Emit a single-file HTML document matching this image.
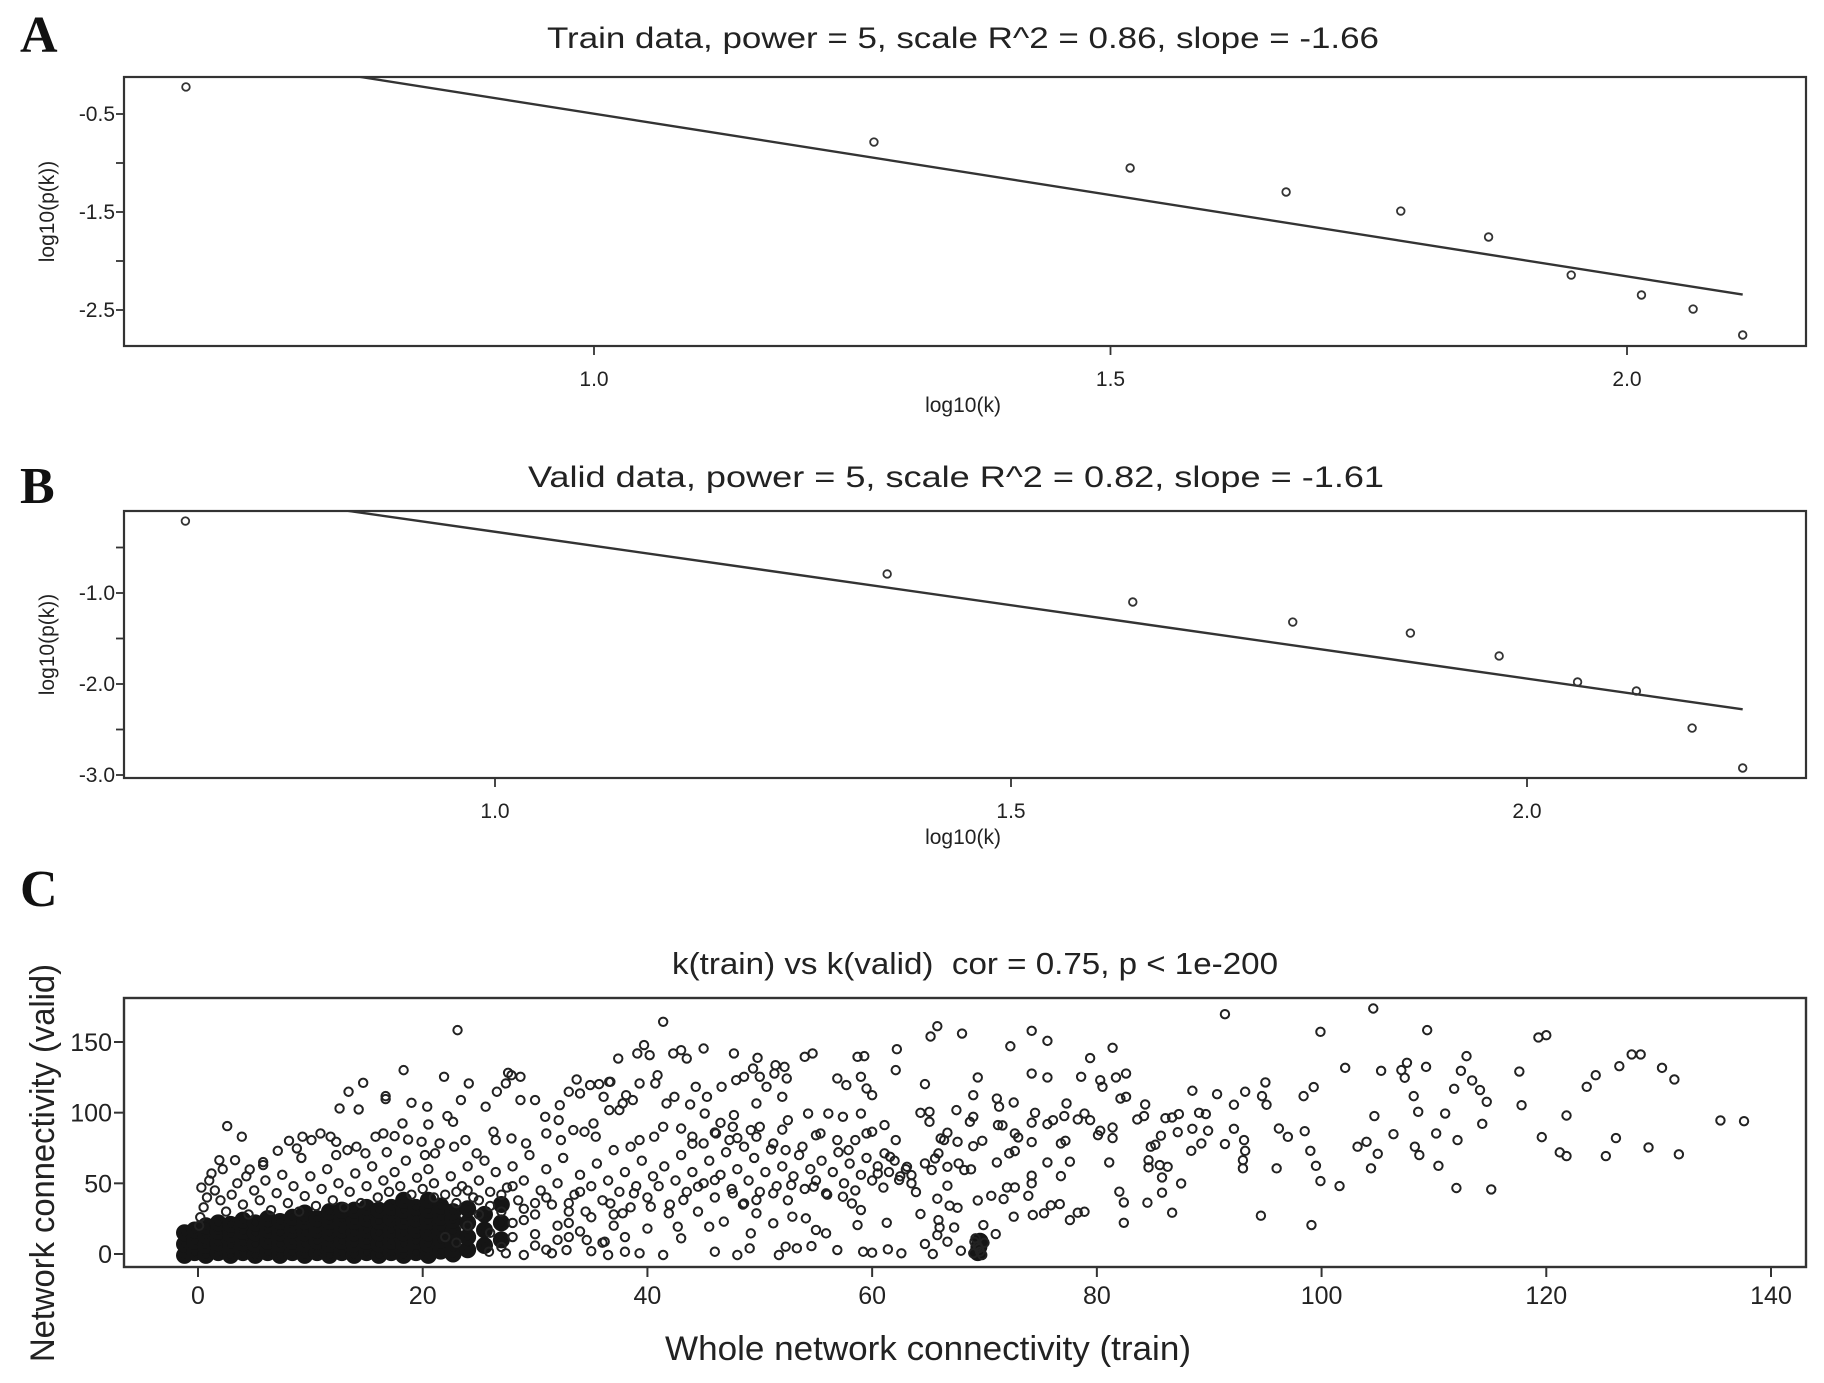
<!DOCTYPE html>
<html>
<head>
<meta charset="utf-8">
<style>
  html,body{margin:0;padding:0;background:#fff;}
  svg{display:block;}
  text{font-family:"Liberation Sans",Arial,sans-serif;fill:#222;}
  .plabel{font-family:"Liberation Serif",serif;font-weight:bold;fill:#111;}
</style>
</head>
<body>
<svg id="fig" width="1824" height="1383" viewBox="0 0 1824 1383" xmlns="http://www.w3.org/2000/svg">
  <rect x="0" y="0" width="1824" height="1383" fill="#fff"/>
  <defs>
    <clipPath id="clipA"><rect x="124" y="77" width="1682" height="269"/></clipPath>
    <clipPath id="clipB"><rect x="124" y="511" width="1682" height="267"/></clipPath>
    <clipPath id="clipC"><rect x="124" y="998" width="1682" height="269"/></clipPath>
  </defs>
  <text class="plabel" x="20" y="52" font-size="52">A</text>
  <text class="plabel" x="20" y="503" font-size="52">B</text>
  <text class="plabel" x="20" y="906" font-size="52">C</text>

  <text x="963" y="48" font-size="30" text-anchor="middle" textLength="832" lengthAdjust="spacingAndGlyphs">Train data, power = 5, scale R^2 = 0.86, slope = -1.66</text>
  <text x="956" y="487" font-size="30" text-anchor="middle" textLength="856" lengthAdjust="spacingAndGlyphs">Valid data, power = 5, scale R^2 = 0.82, slope = -1.61</text>
  <text x="975" y="974" font-size="31" text-anchor="middle" textLength="606" lengthAdjust="spacingAndGlyphs">k(train) vs k(valid)&#160; cor = 0.75, p &lt; 1e-200</text>

  <g id="panelA"></g>
  <g id="panelB"></g>
  <g id="panelC"></g>
</svg>
<script>
// ---------- Panel A data ----------
const aLogK = [0.605, 1.271, 1.519, 1.670, 1.781, 1.866, 1.946, 2.014, 2.064, 2.112];
const aLogP = [-0.224, -0.786, -1.051, -1.296, -1.49, -1.755, -2.143, -2.347, -2.49, -2.755];
const aFit = [1.163, -1.66]; // intercept, slope
const aXTicks = [1.0, 1.5, 2.0];
const aXTickLabels = ["1.0", "1.5", "2.0"];
const aYTicks = [-0.5, -1.0, -1.5, -2.0, -2.5];
const aYTickLabels = ["-0.5", "", "-1.5", "", "-2.5"];
// ---------- Panel B data ----------
const bLogK = [0.70, 1.380, 1.618, 1.773, 1.887, 1.973, 2.049, 2.106, 2.160, 2.209];
const bLogP = [-0.209, -0.791, -1.099, -1.319, -1.44, -1.692, -1.978, -2.077, -2.484, -2.923];
const bFit = [1.287, -1.614];
const bXTicks = [1.0, 1.5, 2.0];
const bXTickLabels = ["1.0", "1.5", "2.0"];
const bYTicks = [-0.5, -1.0, -1.5, -2.0, -2.5, -3.0];
const bYTickLabels = ["", "-1.0", "", "-2.0", "", "-3.0"];
// ---------- Panel C data ----------
const cXTicks = [0, 20, 40, 60, 80, 100, 120, 140];
const cYTicks = [0, 50, 100, 150];
// dense core (drawn as heavy discs): [k(train), k(valid)]
const cCore = [
[-1.2,-1],[-1.2,7],[-1.2,15],[-0.3,1],[-0.3,9],[-0.3,17],[0.7,-1],[0.7,6],[0.7,13],[0.7,20],
[1.8,1],[1.8,8],[1.8,16],[1.8,22],[2.9,-1],[2.9,6],[2.9,14],[2.9,21],[4.0,1],[4.0,8],[4.0,16],[4.0,24],
[5.1,-1],[5.1,7],[5.1,15],[5.1,22],[6.2,1],[6.2,9],[6.2,17],[6.2,25],[7.3,-1],[7.3,7],[7.3,15],[7.3,23],
[8.4,1],[8.4,9],[8.4,17],[8.4,26],[9.5,-1],[9.5,7],[9.5,15],[9.5,23],[9.5,29],[10.6,1],[10.6,9],[10.6,17],[10.6,25],
[11.7,-1],[11.7,7],[11.7,15],[11.7,23],[11.7,30],[12.8,1],[12.8,9],[12.8,17],[12.8,25],[12.8,31],
[13.9,-1],[13.9,7],[13.9,15],[13.9,23],[13.9,31],[15.0,1],[15.0,9],[15.0,17],[15.0,25],[15.0,33],
[16.1,-1],[16.1,7],[16.1,15],[16.1,23],[16.1,31],[17.2,1],[17.2,9],[17.2,17],[17.2,25],[17.2,33],
[18.3,-1],[18.3,7],[18.3,15],[18.3,23],[18.3,31],[18.3,38],[19.4,1],[19.4,9],[19.4,17],[19.4,25],[19.4,33],
[20.5,-1],[20.5,7],[20.5,15],[20.5,23],[20.5,31],[20.5,38],[21.6,2],[21.6,10],[21.6,18],[21.6,26],[21.6,34],
[22.7,0],[22.7,8],[22.7,16],[22.7,24],[22.7,30],[24.0,3],[24.0,12],[24.0,22],[24.0,32],
[25.5,6],[25.5,17],[25.5,28],[27,10],[27,22],[27,35],[69.4,1],[69.5,5],[69.6,9]
];
// individual points: [k(train), k(valid)]
const cPoints = [
[104.6,173.7],[91.4,169.7],[99.9,157.2],[109.4,158.4],[119.3,153.2],[120,154.8],[65.8,161.2],[65.2,153.9],[68,156],[74.2,157.9],
[75.6,150.8],[72.3,147],[81.4,145.9],[79.4,138.6],[112.9,140],[127.6,141.2],[128.4,141.2],[102.1,131.7],[105.3,129.6],[107.1,130.1],
[107.6,135.3],[109.3,132.4],[112.4,129.6],[117.6,129.1],[126.5,132.9],[130.3,131.7],[131.4,123.5],[124.4,126.5],[123.6,118.3],[113.4,122.8],
[114.1,116],[111.8,116.9],[107.4,124.7],[64.7,120.2],[69.4,124.9],[74.2,127.7],[75.6,124.9],[78.6,125.4],[80.3,123],[80.5,118.3],
[81.7,124.9],[82.6,127.7],[88.5,115.5],[90.7,113.1],[93.2,114.8],[95,121.4],[94.7,111.7],[95.1,105.6],[92.2,105.6],[98.4,111.7],
[99.3,118.1],[108.2,111.7],[114.7,107.7],[117.8,105.3],[121.8,98],[114.3,92.1],[108.6,100.6],[111,99.4],[104.7,97.6],[135.5,94.5],
[137.6,94],[119.6,82.7],[126.2,82],[112.1,80.6],[110.2,85.3],[106.4,84.8],[104,79.4],[103.2,75.9],[105,70.9],[121.2,71.9],
[121.8,69.3],[125.3,69.3],[129.1,75.4],[131.8,70.5],[108.3,75.9],[108.7,70],[110.4,62.4],[112,46.7],[115.1,45.7],[99,73],
[99.5,62.4],[99.9,51.6],[101.6,48.1],[104.4,60.6],[96,60.6],[96.2,88.8],[97,82.9],[98.5,86.9],[93.1,80.6],[93.2,73],
[93,66.4],[93,60.6],[91.4,77.8],[92.2,88.6],[94.6,27.1],[99.1,20.5],[88.5,88.6],[89.3,78.2],[89.9,87.2],[88.4,73],
[87.2,86.2],[86.7,96.6],[86.1,96.1],[87.3,99],[89.1,99.9],[89.7,99],[85.7,83.7],[85.2,77.3],[84.8,75.9],[84.6,66.4],
[84.6,61.3],[85.6,62.9],[86.3,61.7],[85.8,54.2],[87.5,49.9],[85.8,43.4],[84.5,36.3],[86.7,29.2],[82.4,22.1],[82.4,36.5],
[82,44.1],[81.1,64.8],[81.4,89.5],[81.4,82],[80.1,84.1],[80.3,87.2],[78.9,99.4],[78.3,95.2],[79.4,94.7],[83.6,95.2],
[84.2,97.6],[84.3,105.8],[82.1,110],[82.6,111.2],[77.3,106.5],[77.1,97.6],[76.1,94.7],[75.6,91.9],[74.2,92.9],[74.5,99.9],
[72.6,107.2],[71.1,110],[71.3,104.2],[69,112.4],[69,97.1],[68.7,93.5],[67.5,101.8],[65.1,100.6],[65.1,93.5],[64.3,99.9],
[71.2,91.2],[71.6,91],[72.7,85.3],[73,82.5],[72.7,72.8],[72.2,71.2],[74.2,79.2],[77.2,80.1],[76.8,78.2],[77.6,65.3],
[75.6,64.8],[71.1,64.8],[69.8,80.1],[69,76.3],[67.6,79.4],[66.4,80.6],[66.1,81.8],[66.7,85.8],[65.9,71.2],[65.6,67.6],
[64.7,64.1],[65.3,59.4],[66.7,61.7],[67.7,64.1],[68.2,59.4],[68.8,59.9],[63.5,55.8],[63.9,43.8],[66.7,48.3],[65.8,39.1],
[66.9,34.2],[67.6,32.7],[69.4,37.9],[70.6,41.2],[71.7,38.9],[72,47.1],[72.7,47.1],[74.2,55.4],[74.2,50],[73.9,41.2],
[72.6,26.4],[74.3,27.6],[75.3,28.8],[75.9,34.4],[76.7,35.3],[76.8,55.1],[77.6,24],[78.3,29.2],[78.9,29.9],[64.3,28.3],
[65.9,24],[66,18.8],[67.3,18.8],[65.8,13.4],[66.7,8.7],[64.7,7.1],[65.4,0],[67.9,2.3],[69.9,20.5],[71,14.1],
[69.1,8.7],[69.4,5.6],[69.6,1.6],[69.8,-0.7],[69.2,11.1],[70,8],[69.5,4],[69,0.5],
[23.1,158.4],[41.4,164.3],[39.7,147.8],[39.1,141.9],[40.2,140.7],[37.4,138.3],[40.9,126.5],[42.3,141.9],[43,144.2],[43.5,138.3],
[45,145.4],[47.7,141.9],[49.8,138.8],[54,139.5],[54.7,141.9],[58.7,139.5],[59.3,140],[62.2,144.9],[62.1,130.1],[18.3,130.1],
[14.7,121.1],[13.4,114.8],[12.6,103],[14.3,102.3],[16.7,111.7],[16.7,109.6],[19,107],[20.4,104.2],[21.9,125.4],[24.1,120.7],
[23.4,108.9],[25.6,104.2],[22.2,97.6],[22.7,93.5],[20.5,91.7],[18.2,92.4],[26.6,114.8],[27.4,120.7],[27.9,126.5],[28.7,125.4],
[27.6,128.2],[28.7,108.9],[30,108.9],[30.9,97.1],[32.1,94.7],[32.2,105.3],[33,114.8],[33.7,123.5],[34,113.6],[34.9,119.5],
[35.7,120.2],[36.6,121.8],[36.7,121.8],[36.1,111.2],[36.6,101.8],[37.8,106.5],[37.5,101.8],[38.1,112.4],[38.7,108.9],[39.3,120.7],
[40.7,120.7],[41.7,106.5],[42.4,111.2],[43.8,105.8],[44.3,118.3],[45.3,111.2],[46.6,118.3],[47.9,123],[48.6,125.4],[49.4,131.3],
[50,125.4],[50.6,118.3],[51.3,127.7],[52.4,124.2],[51.4,133.6],[52.2,132.4],[52,111.2],[49.7,106.5],[47.7,98.3],[45.1,99.4],
[46.5,92.8],[47.6,90],[49.2,87.7],[52.5,94.7],[54.3,99.4],[56.1,99.4],[57.4,97.1],[59,99.4],[61.1,91.2],[56.9,124.2],
[57.7,119.5],[59,125.4],[59.5,117.1],[60,112.4],[58.5,80.6],[60,86.5],[62.1,80.6],[61.6,68.8],[63.1,61.7],
[2.6,90.5],[3.9,83],[1.9,66.4],[3.3,66.4],[4.6,59.8],[5.8,62.9],[7.1,73],[8.1,80.1],[8.8,74.7],[9.3,83],
[10.1,80.6],[10.9,85.3],[11.8,83],[12.3,79.4],[13.3,73.5],[14.1,75.9],[14.9,71.2],[15.8,83],[16.5,85.3],[17.5,83.4],
[18.7,81],[19.9,79.4],[21.1,71.2],[21.5,78.2],[22.8,75.9],[23.8,80.6],[24.8,71.2],[26.3,86.5],[26.5,80.6],[27.9,81.8],
[29.2,78.2],[31,85.3],[32.3,80.6],[33.4,87.7],[34.4,86.5],[35.2,92.4],[35.4,83],[37,73.5],[38.5,75.9],[39.3,80.6],
[40.6,83],[41.4,90],[43,88.8],[44,83],[45,78.2],[46.1,85.3],[47.3,80.6],[48.6,75.9],[49.7,83],[51.2,78.2],
[52.3,73.5],[53.8,75.9],[55.4,85.3],[56.9,80.6],[57.9,73.5],[59.5,85.3],[61.1,71.2],
[46,1.6],[48,-0.7],[49.1,4],[51.7,-0.7],[52.3,5.2],[53.3,4],[54.6,5.6],[56.9,2.8],[59.2,1.6],[60,0.9],
[61.4,3.3],[62.6,0.5],[61.3,22.1],[58.7,20.5],[55.9,14.6],[55,17],[54.1,25.2],[52.9,26.4],[51.2,21.7],[49.2,14.6],
[49.7,28.8],[46.8,22.9],[45.5,19.3],[43,11.1],[42.7,19.3],[41.4,-0.7],[39.3,0.5],[38,1.6],[36.5,-0.7],[36.2,8.7],
[34.6,9.9],[32.8,2.8],[31.5,0.5],[29,-0.7],[27.4,0.5],[25.9,1.6],[46,52.3],[47.6,42.9],[48.6,35.8],[49.7,38.2],
[51.2,42.9],[52.8,48.8],[54.8,47.6],[55.9,42.9],[57.4,40.5],[58.2,35.8],[59,31.1],[60.5,57],[62.4,52.3],[44.5,47.6],
[43.2,38.2],[41.9,28.8],[40.3,33.5],[38.8,42.9],[37.8,28.8],[36.7,35.8],
[0.2,26],[0.5,33],[0.8,40],[0.3,47],[1,52],[1.5,45],[2,38],[2.5,30],[3,42],[3.5,50],[4,35],[4.5,28],[5,45],[5.5,38],[6,52],
[6.5,31],[7,43],[7.5,56],[8,36],[8.5,48],[9,30],[9.5,41],[10,55],[10.5,34],[11,46],[11.5,60],[12,38],[12.5,50],[13,33],[13.5,44],
[14,57],[14.5,36],[15,48],[15.5,62],[16,40],[16.5,52],[17,44],[17.5,58],[18,48],[18.5,66],[19,42],[19.5,54],[20,46],[20.5,60],[21,50],
[1.2,57],[2.2,60],[5.8,65],[9.2,68],[12.3,70],[16.8,72],[20.2,70],[4.3,55],[0.1,20],
[22,42],[22.5,55],[23,36],[23.5,48],[24,62],[24.5,40],[25,52],[25.5,66],[26,44],[26.5,58],[27,30],[27.5,47],[28,62],[28.5,38],[29,52],
[29.5,70],[30,28],[30.5,45],[31,60],[31.5,35],[32,50],[32.5,68],[33,22],[33.5,42],[34,56],[34.5,30],[35,48],[35.5,64],[36,38],[36.5,52],
[37,20],[37.5,44],[38,58],[38.5,33],[39,48],[39.5,66],[40,40],[40.5,55],[22,12],[24,20],[26,15],[28,22],[30,14],[32,10],[34,16],
[36,8],[38,12],[40,18],[25,28],[29,32],[33,36],[37,28],[23,8],[27,5],[31,3],[35,2],
[41,48],[41.5,62],[42,35],[42.5,52],[43,70],[43.5,44],[44,58],[44.5,30],[45,50],[45.5,66],[46,40],[46.5,56],[47,72],[47.5,46],[48,60],
[48.5,35],[49,52],[49.5,68],[50,44],[50.5,58],[51,74],[51.5,48],[52,62],[52.5,38],[53,55],[53.5,70],[54,46],[54.5,60],[55,52],[55.5,66],
[56,42],[56.5,58],[57,72],[57.5,50],[58,64],[58.5,45],[59,56],[59.5,68],[60,52],[60.5,62],[61,47],[61.5,58],[62,66],[62.5,55],[63,60],
[63.5,50],[44,78],[48,82],[52,88],[55,84],[50,90],[46,86],
[21,40],[23,44],[25,38],[27,42],[29,24],[31,40],[33,30],[35,26],[24,45],[28,48],[30,36],[34,44],[26,34],[32,20],[28,12],[30,6],[33,12]
];

const NS = "http://www.w3.org/2000/svg";
function mk(tag, attrs, parent) {
  const e = document.createElementNS(NS, tag);
  for (const k in attrs) e.setAttribute(k, attrs[k]);
  parent.appendChild(e);
  return e;
}
function lin(d0, d1, r0, r1) { return v => r0 + (v - d0) * (r1 - r0) / (d1 - d0); }

function drawLogPanel(g, cfg) {
  const sx = cfg.sx, sy = cfg.sy;
  const box = mk("rect", {x: cfg.L, y: cfg.T, width: cfg.R - cfg.L, height: cfg.B - cfg.T, fill: "none", stroke: "#333", "stroke-width": 2.2}, g);
  
  
  cfg.xt.forEach((v, i) => {
    const x = sx(v);
    const t = mk("line", {x1: x, x2: x, y1: cfg.B, y2: cfg.B + 9, stroke: "#333", "stroke-width": 1.8}, g);
    
    
    const l = mk("text", {x: x, y: cfg.B + 40, "font-size": 21, "text-anchor": "middle"}, g);
    l.textContent = cfg.xl[i];
    
    
  });
  cfg.yt.forEach((v, i) => {
    const y = sy(v);
    const t = mk("line", {x1: cfg.L - 8, x2: cfg.L, y1: y, y2: y, stroke: "#333", "stroke-width": 1.8}, g);
    
    
    if (cfg.yl[i]) {
      const l = mk("text", {x: cfg.L - 9, y: y + 7, "font-size": 21, "text-anchor": "end"}, g);
      l.textContent = cfg.yl[i];
      
      
    }
  });
  const xl = mk("text", {x: 963, y: cfg.B + 66, "font-size": 21, "text-anchor": "middle"}, g);
  xl.textContent = "log10(k)";
  
  
  const yc = (cfg.T + cfg.B) / 2;
  const yl = mk("text", {x: 54, y: yc, "font-size": 21, "text-anchor": "middle", transform: "rotate(-90 54 " + yc + ")"}, g);
  yl.textContent = "log10(p(k))";
  
  
  const x0 = cfg.kx[0], x1 = cfg.kx[cfg.kx.length - 1];
  const fit = mk("line", {x1: sx(x0), y1: sy(cfg.fit[0] + cfg.fit[1] * x0), x2: sx(x1), y2: sy(cfg.fit[0] + cfg.fit[1] * x1), stroke: "#333", "stroke-width": 2.4, "clip-path": cfg.clip}, g);
  
  
  cfg.kx.forEach((v, i) => {
    const c = mk("circle", {cx: sx(v), cy: sy(cfg.ky[i]), r: 3.8, fill: "none", stroke: "#333", "stroke-width": 1.8}, g);
    
    
  });
}

drawLogPanel(document.getElementById("panelA"), {
  L: 124, R: 1806, T: 77, B: 346,
  sx: lin(1.0, 2.0, 594, 1627), sy: lin(-0.5, -2.5, 114, 310),
  xt: aXTicks, xl: aXTickLabels, yt: aYTicks, yl: aYTickLabels,
  kx: aLogK, ky: aLogP, fit: aFit, clip: "url(#clipA)"
});
drawLogPanel(document.getElementById("panelB"), {
  L: 124, R: 1806, T: 511, B: 778,
  sx: lin(1.0, 2.0, 495, 1527), sy: lin(-1.0, -3.0, 593, 775),
  xt: bXTicks, xl: bXTickLabels, yt: bYTicks, yl: bYTickLabels,
  kx: bLogK, ky: bLogP, fit: bFit, clip: "url(#clipB)"
});

// ---------- Panel C ----------
(function () {
  const g = document.getElementById("panelC");
  const L = 124, R = 1806, T = 998, B = 1267;
  const sx = lin(0, 140, 198, 1771), sy = lin(0, 150, 1254, 1042);
  const box = mk("rect", {x: L, y: T, width: R - L, height: B - T, fill: "none", stroke: "#333", "stroke-width": 2.4}, g);
  
  
  cXTicks.forEach(v => {
    const x = sx(v);
    const t = mk("line", {x1: x, x2: x, y1: B, y2: B + 10, stroke: "#333", "stroke-width": 2}, g);
    
    
    const l = mk("text", {x: x, y: B + 37, "font-size": 25, "text-anchor": "middle"}, g);
    l.textContent = String(v);
    
    
  });
  cYTicks.forEach(v => {
    const y = sy(v);
    const t = mk("line", {x1: L - 10, x2: L, y1: y, y2: y, stroke: "#333", "stroke-width": 2}, g);
    
    
    const l = mk("text", {x: L - 12, y: y + 9, "font-size": 25, "text-anchor": "end"}, g);
    l.textContent = String(v);
    
    
  });
  const xt = mk("text", {x: 928, y: 1360, "font-size": 34, "text-anchor": "middle", textLength: 526, lengthAdjust: "spacingAndGlyphs"}, g);
  xt.textContent = "Whole network connectivity (train)";
  
  
  const yt = mk("text", {x: 54, y: 1163, "font-size": 34, "text-anchor": "middle", textLength: 398, lengthAdjust: "spacingAndGlyphs", transform: "rotate(-90 54 1163)"}, g);
  yt.textContent = "Network connectivity (valid)";
  
  
  const layer = mk("g", {"clip-path": "url(#clipC)"}, g);
  
  
  cCore.forEach(p => {
    const c = mk("circle", {cx: sx(p[0]), cy: sy(p[1]), r: 6, fill: "#151515", stroke: "#151515", "stroke-width": 5}, layer);
    
    
  });
  cPoints.forEach(p => {
    const c = mk("circle", {cx: sx(p[0]), cy: sy(p[1]), r: 4.2, fill: "none", stroke: "#222", "stroke-width": 2}, layer);
    
    
  });
})();
</script>
</body>
</html>
